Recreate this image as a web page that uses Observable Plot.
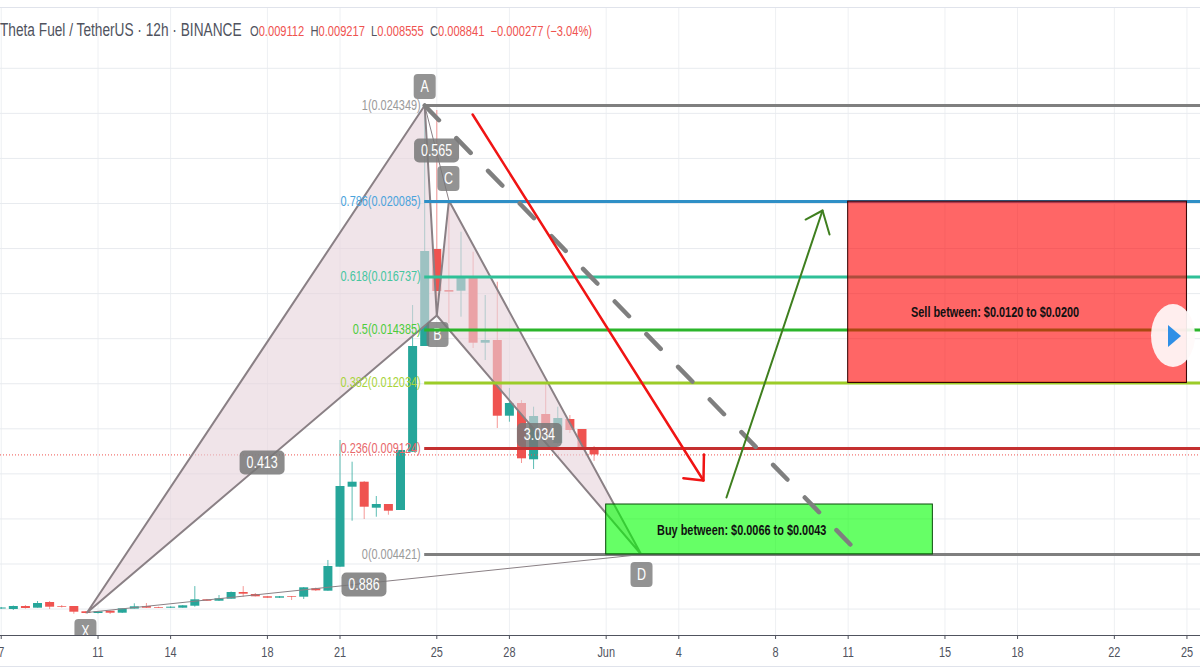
<!DOCTYPE html>
<html>
<head>
<meta charset="utf-8">
<script src="https://cdn.jsdelivr.net/npm/d3@7"></script>
<script src="https://cdn.jsdelivr.net/npm/@observablehq/plot@0.6"></script>
<style>
html,body{margin:0;padding:0;background:#fff;}
#wrap{position:relative;width:1200px;height:667px;overflow:hidden;font-family:"Liberation Sans",sans-serif;}
#chart svg{display:block;max-width:none;background:transparent;}
#hdr{position:absolute;left:0;top:19px;white-space:nowrap;color:#50535e;font-size:18px;line-height:22px;transform:scaleX(.76);transform-origin:0 50%;}
#ohlc{position:absolute;left:250px;top:22px;white-space:nowrap;color:#50535e;font-size:14px;line-height:18px;transform:scaleX(.795);transform-origin:0 50%;}
#ohlc b{font-weight:400;color:#ef5350;}
#bot{position:absolute;left:0;top:666px;width:1200px;height:1px;background:#e0e3eb;}
#play{position:absolute;left:1151px;top:304px;width:44px;height:63px;border-radius:50%;background:rgba(255,250,250,.92);}
#play i{position:absolute;left:17px;top:21px;width:0;height:0;border-top:11px solid transparent;border-bottom:11px solid transparent;border-left:13px solid #2f8fe6;}
</style>
</head>
<body>
<div id="wrap">
  <div id="chart"></div>
  <div id="hdr">Theta Fuel / TetherUS · 12h · BINANCE</div>
  <div id="ohlc">O<b>0.009112</b> &nbsp;H<b>0.009217</b> &nbsp;L<b>0.008555</b> &nbsp;C<b>0.008841</b> &nbsp;<b>−0.000277 (−3.04%)</b></div>
  <div id="bot"></div>
  <div id="play"><i></i></div>
</div>
<script>
// Days counted from 1 May (1 Jun = 32)
const days   = [7,7.5,8,8.5,9,9.5,10,10.5,11,11.5,12,12.5,13,13.5,14,14.5,15,15.5,16,16.5,17,17.5,18,18.5,19,19.5,20,20.5,21,21.5,22,22.5,23,23.5,24,24.5,25,25.5,26,26.5,27,27.5,28,28.5,29,29.5,30,30.5,31,31.5];
const opens  = [.002002,.001980,.002113,.002038,.002291,.002113,.002113,.001878,.001802,.001904,.001816,.001998,.002113,.002069,.002038,.002038,.002126,.002410,.002348,.002437,.002735,.002646,.002544,.002482,.002544,.002526,.002899,.002792,.003857,.007408,.007630,.006476,.006640,.006374,.008961,.013653,.017958,.016138,.016107,.016671,.013799,.013919,.010559,.011123,.008624,.010635,.009347,.010413,.009969,.009112];
const highs  = [.002069,.002135,.002157,.002335,.002335,.002157,.002113,.001891,.001891,.001913,.001998,.002233,.002246,.002082,.002100,.002157,.002997,.002424,.002601,.002757,.002997,.002690,.002557,.002557,.002557,.002956,.002934,.004155,.009481,.008518,.007661,.006995,.006640,.009037,.015472,.024349,.024127,.020088,.018726,.017838,.015916,.016506,.011789,.011256,.010959,.011966,.010959,.010590,.009969,.009217];
const lows   = [.001980,.001935,.001998,.002038,.001980,.002046,.001771,.001780,.001780,.001758,.001802,.001998,.002024,.002024,.002024,.002038,.002082,.002335,.002335,.002437,.002526,.002535,.002468,.002468,.002379,.002424,.002779,.002792,.003857,.005899,.005974,.006076,.006165,.006374,.008948,.013653,.015694,.014673,.014953,.013564,.013031,.010013,.010293,.008460,.008194,.009658,.009303,.009791,.009126,.008555];
const closes = [.002046,.002113,.002024,.002246,.002082,.002082,.001860,.001802,.001878,.001816,.002011,.002100,.002038,.002038,.002082,.002144,.002410,.002348,.002455,.002735,.002659,.002544,.002482,.002544,.002513,.002943,.002810,.003888,.007439,.007630,.006520,.006640,.006343,.009037,.013653,.017869,.016094,.016063,.016728,.013799,.013919,.010559,.011123,.008668,.010546,.009703,.010457,.009924,.009126,.008841];

const gridPrices = [.002,.004,.006,.008,.010,.012,.014,.016,.018,.020,.022,.024,.026];
const tickDays   = [7,11,14,18,21,25,28,32,35,39,42,46,49,53,56];
const tickLabels = ["7","11","14","18","21","25","28","Jun","4","8","11","15","18","22","25"];

const fibLevels = ["1","0.786","0.618","0.5","0.382","0.236","0"];
const fibPrices = [.024349,.020085,.016737,.014385,.012034,.009124,.004421];
const fibColors = ["#7f7f7f","#2e8fc6","#2fc097","#2bb52b","#9ccc28","#c43030","#7f7f7f"];
const fibTextColors = ["#9a9a9a","#4aa3dc","#45c6a0","#4ccc3c","#a8d43c","#e8686c","#9a9a9a"];

const patNames = ["X","A","B","C","D"];
const patDays  = [10.55,24.5,25,25.5,33.45];
const patPrice = [.001847,.024349,.015029,.020133,.004421];
const letterDays  = [10.48,24.5,25.03,25.48,33.46];
const letterPrice = [.001004,.025192,.014185,.021109,.003533];

const ratioNames = ["0.413","0.565","3.034","0.886"];
const ratioDays  = [17.78,24.99,29.24,21.99];
const ratioPrice = [.008504,.022352,.009725,.003090];

const dashDays = [24.5,42.09],  dashPrice = [.024349,.004865];
const redDays  = [26.48,36.02], redPrice  = [.023950,.007705];
const redHeadDays = [36.04,36.02,35.19], redHeadPrice = [.008859,.007705,.007807];
const greenDays = [36.97,40.94], greenPrice = [.006951,.019689];
const greenHeadDays = [40.24,40.94,41.23], greenHeadPrice = [.019289,.019689,.018624];

const lastPrice = .008841;
const xMax = 56.56;

const GREEN="#26a69a", RED="#ef5350";
const candles = days.map((d,i)=>({d,o:opens[i],h:highs[i],l:lows[i],c:closes[i]}));
const up = candles.filter(k=>k.c>=k.o), dn = candles.filter(k=>k.c<k.o);
const pts = names => names.map(n=>{const i=patNames.indexOf(n);return {d:patDays[i],p:patPrice[i]};});
const zip = (ds,ps) => ds.map((d,i)=>({d,p:ps[i]}));
const fibs = fibLevels.map((l,i)=>({level:l,p:fibPrices[i],color:fibColors[i],tc:fibTextColors[i],label:`${l}(${fibPrices[i].toFixed(6)})`}));
const letters = patNames.map((n,i)=>({n,d:letterDays[i],p:letterPrice[i]}));
const ratios = ratioNames.map((n,i)=>({n,d:ratioDays[i],p:ratioPrice[i]}));

function box(w,h,r){return {draw(c){
  const x=-w/2,y=-h/2;
  c.moveTo(x+r,y);c.lineTo(x+w-r,y);c.arcTo(x+w,y,x+w,y+r,r);
  c.lineTo(x+w,y+h-r);c.arcTo(x+w,y+h,x+w-r,y+h,r);
  c.lineTo(x+r,y+h);c.arcTo(x,y+h,x,y+h-r,r);
  c.lineTo(x,y+r);c.arcTo(x,y,x+r,y,r);c.closePath();
}};}

const PAT="#8a8085", PATFILL="#e7d3db";
const fill3 = names => Plot.line(pts(names),{x:"d",y:"p",fill:PATFILL,fillOpacity:.62,stroke:PAT,strokeWidth:2,strokeLinejoin:"miter"});

const chart = Plot.plot({
  width:1200,height:667,marginLeft:0,marginRight:0,marginTop:7,marginBottom:32,
  style:{fontFamily:'"Liberation Sans",sans-serif',background:"transparent"},
  color:{type:"identity"},
  x:{domain:[6.97,xMax],range:[0,1200],label:null},
  y:{domain:[.000826,.028699],range:[635,7],label:null,axis:null},
  marks:[
    Plot.ruleX(tickDays,{stroke:"#eef0f3",strokeWidth:1}),
    Plot.ruleY(gridPrices,{stroke:"#e8ebef",strokeWidth:1}),
    Plot.ruleY([.028699],{stroke:"#e0e3eb"}),
    Plot.ruleX(up,{x:"d",y1:"l",y2:"h",stroke:GREEN,strokeWidth:1,strokeOpacity:.75}),
    Plot.ruleX(dn,{x:"d",y1:"l",y2:"h",stroke:RED,strokeWidth:1,strokeOpacity:.6}),
    Plot.ruleX(up,{x:"d",y1:"o",y2:"c",stroke:GREEN,strokeWidth:9}),
    Plot.ruleX(dn,{x:"d",y1:"o",y2:"c",stroke:RED,strokeWidth:9}),
    Plot.ruleY([lastPrice],{stroke:RED,strokeWidth:1,strokeDasharray:"1 2"}),
    Plot.line(pts(["A","C"]),{x:"d",y:"p",stroke:PAT,strokeWidth:1}),
    Plot.line(pts(["X","D"]),{x:"d",y:"p",stroke:PAT,strokeWidth:1}),
    fill3(["X","A","B","X"]),
    fill3(["B","C","D","B"]),
    Plot.dot(letters,{x:"d",y:"p",r:10,symbol:box(22,25,4),fill:"#787878",fillOpacity:.8,stroke:"none",clip:"frame"}),
    Plot.text(letters,{x:"d",y:"p",text:"n",fill:"#fff",fontSize:16,clip:"frame"}),
    Plot.ruleY(fibs,{y:"p",x1:24.5,x2:xMax,stroke:"color",strokeWidth:3}),
    Plot.text(fibs,{x:24.5,y:"p",text:"label",textAnchor:"end",dx:-4,fill:"tc",fontSize:14}),
    Plot.rect([{x1:42,x2:56,y1:.012034,y2:.020085}],{x1:"x1",x2:"x2",y1:"y1",y2:"y2",fill:"#ff0000",fillOpacity:.6,stroke:"#300",strokeWidth:1}),
    Plot.rect([{x1:32,x2:45.5,y1:.004421,y2:.006640}],{x1:"x1",x2:"x2",y1:"y1",y2:"y2",fill:"#00ff00",fillOpacity:.6,stroke:"#0a4a0a",strokeWidth:1}),
    Plot.text(["Sell between: $0.0120 to $0.0200"],{x:48.07,y:.015162,text:d=>d,fill:"#111",fontSize:14,fontWeight:700}),
    Plot.text(["Buy between: $0.0066 to $0.0043"],{x:37.6,y:.005486,text:d=>d,fill:"#111",fontSize:14,fontWeight:700}),
    Plot.line(zip(dashDays,dashPrice),{x:"d",y:"p",stroke:"#7f7f7f",strokeWidth:4.5,strokeDasharray:"20.5 25"}),
    Plot.line(zip(redDays,redPrice),{x:"d",y:"p",stroke:"#f01414",strokeWidth:2.5}),
    Plot.line(zip(redHeadDays,redHeadPrice),{x:"d",y:"p",stroke:"#f01414",strokeWidth:2.5}),
    Plot.line(zip(greenDays,greenPrice),{x:"d",y:"p",stroke:"#3f7f1f",strokeWidth:2}),
    Plot.line(zip(greenHeadDays,greenHeadPrice),{x:"d",y:"p",stroke:"#3f7f1f",strokeWidth:2}),
    Plot.dot(ratios,{x:"d",y:"p",r:10,symbol:box(45,24,5),fill:"#787878",fillOpacity:.85,stroke:"none"}),
    Plot.text(ratios,{x:"d",y:"p",text:"n",fill:"#fff",fontSize:16}),
    Plot.ruleY([.000826],{stroke:"#50535e",strokeWidth:1}),
    Plot.axisX({ticks:tickDays,tickFormat:d=>tickLabels[tickDays.indexOf(d)],tickSize:4,tickPadding:8,fontSize:14,stroke:"#50535e",fill:"#50535e",label:null,anchor:"bottom"})
  ]
});
document.getElementById("chart").appendChild(chart);
// The reference's type is condensed: narrow every chart text to the same proportion.
chart.querySelectorAll("text").forEach(t=>{
  if(!t.textContent.trim()) return;
  const len=t.getComputedTextLength();
  t.setAttribute("textLength",(len*0.78).toFixed(2));
  t.setAttribute("lengthAdjust","spacingAndGlyphs");
});
</script>
</body>
</html>
